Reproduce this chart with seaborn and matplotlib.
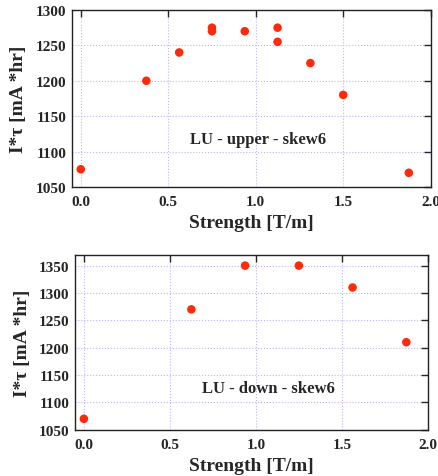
import numpy as np
import pandas as pd
import seaborn as sns
import matplotlib.pyplot as plt

# Data
up_strength = [0.0, 0.375, 0.5625, 0.75, 0.75, 0.9375, 1.125, 1.125, 1.3125, 1.5, 1.875]
up_itau = [1075, 1200, 1240, 1275, 1270, 1270, 1275, 1255, 1225, 1180, 1070]
down_strength = [0.0, 0.625, 0.9375, 1.25, 1.5625, 1.875]
down_itau = [1070, 1270, 1350, 1350, 1310, 1210]

x_ticks = [0.0, 0.5, 1.0, 1.5, 2.0]
up_yticks = [1050, 1100, 1150, 1200, 1250, 1300]
down_yticks = [1050, 1100, 1150, 1200, 1250, 1300, 1350]

sns.set_style('white')
plt.rcParams['font.family'] = ['Liberation Serif', 'DejaVu Serif']
plt.rcParams['font.weight'] = 'bold'

df_up = pd.DataFrame({'Strength': up_strength, 'Itau': up_itau})
df_down = pd.DataFrame({'Strength': down_strength, 'Itau': down_itau})

fig = plt.figure(figsize=(4.39, 4.77), dpi=100)
ax1 = fig.add_axes([0.164, 0.606, 0.817, 0.371])
ax2 = fig.add_axes([0.1715, 0.097, 0.803, 0.367])

red = '#ff2a0a'

def style(ax, yticks, ylim, label, pos):
    ax.set_xlim(-0.05, 2.0)
    ax.set_ylim(*ylim)
    ax.set_xticks(x_ticks)
    ax.set_yticks(yticks)
    ax.set_xticklabels([f'{t:.1f}' for t in x_ticks], fontsize=11, fontweight='bold')
    ax.set_yticklabels([str(t) for t in yticks], fontsize=11, fontweight='bold')
    ax.grid(True, color='#b8b8f0', linestyle=':', linewidth=0.8)
    ax.set_axisbelow(True)
    ax.tick_params(direction='in', length=5, width=1, top=True, right=True)
    ax.tick_params(axis='x', pad=6)
    ax.tick_params(axis='y', pad=4)
    for s in ax.spines.values():
        s.set_color('#222222')
        s.set_linewidth(1.0)
    ax.set_xlabel('Strength [T/m]', fontsize=14, fontweight='bold', labelpad=4)
    ax.set_ylabel('I*τ [mA *hr]', fontsize=14, fontweight='bold', labelpad=6)
    ax.text(pos[0], pos[1], label, transform=ax.transAxes, fontsize=12,
            fontweight='bold', ha='left', va='center')

sns.scatterplot(data=df_up, x='Strength', y='Itau', ax=ax1, color=red,
                s=38, edgecolor='none', zorder=3)
style(ax1, up_yticks, (1050, 1300), 'LU - upper - skew6', (0.33, 0.27))

sns.scatterplot(data=df_down, x='Strength', y='Itau', ax=ax2, color=red,
                s=38, edgecolor='none', zorder=3, clip_on=False)
style(ax2, down_yticks, (1050, 1370), 'LU - down - skew6', (0.36, 0.24))

fig.savefig('out.png', dpi=100)
